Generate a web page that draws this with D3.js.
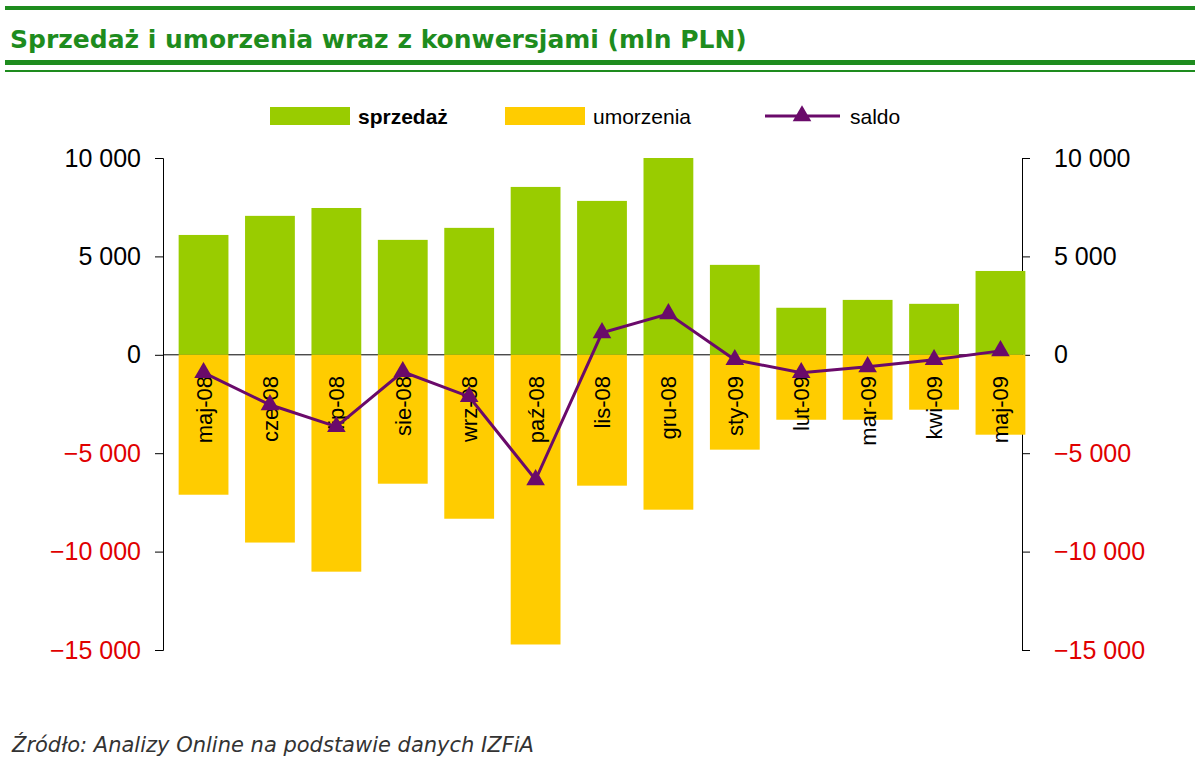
<!DOCTYPE html><html><head><meta charset="utf-8">
<script src="https://cdn.jsdelivr.net/npm/d3@7"></script>
<style>body{margin:0;background:#fff}</style></head><body>
<svg id="c" width="1200" height="769"></svg>
<script>
const categories=["maj-08","cze-08","lip-08","sie-08","wrz-08","paź-08","lis-08","gru-08","sty-09","lut-09","mar-09","kwi-09","maj-09"];
const sprzedaz=[6090,7060,7460,5840,6450,8530,7820,10000,4570,2390,2790,2590,4260];
const umorzenia=[-7110,-9540,-11020,-6550,-8330,-14720,-6650,-7870,-4820,-3300,-3300,-2790,-4060];
const saldo=[-910,-2540,-3650,-860,-2130,-6350,1120,2080,-250,-910,-610,-250,200];
const ticks=[10000,5000,0,-5000,-10000,-15000];
const svg=d3.select("#c");
const G="#1e8c1e";
svg.append("rect").attr("x",5).attr("y",6).attr("width",1190).attr("height",4).attr("fill",G);
svg.append("text").attr("x",10).attr("y",48).attr("font-family","DejaVu Sans").attr("font-weight","bold").attr("font-size",25).attr("fill",G).text("Sprzedaż i umorzenia wraz z konwersjami (mln PLN)");
svg.append("rect").attr("x",5).attr("y",60).attr("width",1190).attr("height",5).attr("fill",G);
svg.append("rect").attr("x",5).attr("y",70).attr("width",1190).attr("height",2).attr("fill",G);
const y=d3.scaleLinear().domain([-15000,10000]).range([650,158]);
const x=d3.scaleBand().domain(categories).range([172,1032]).paddingInner(0.25).paddingOuter(0.1);
const fmt=d=>d3.format(",")(d).replace(",","\u00a0");
function axis(gen,xp,anchorX,anchor){
 const g=svg.append("g").attr("transform",`translate(${xp},0)`).call(gen.tickValues(ticks).tickFormat(fmt).tickSize(8));
 g.select(".domain").attr("stroke","#000");
 g.selectAll("text").attr("font-family","Liberation Sans").attr("font-size",25).attr("fill",d=>d<0?"#e00000":"#000").attr("x",anchorX).attr("text-anchor",anchor);
}
axis(d3.axisLeft(y),163,-22,"end");
axis(d3.axisRight(y),1022,32,"start");
svg.append("line").attr("x1",163).attr("x2",1022).attr("y1",y(0)).attr("y2",y(0)).attr("stroke","#000");
svg.selectAll(".s").data(categories).join("rect").attr("x",d=>x(d)).attr("width",x.bandwidth()).attr("y",(d,i)=>y(sprzedaz[i])).attr("height",(d,i)=>y(0)-y(sprzedaz[i])).attr("fill","#99cc00");
svg.selectAll(".u").data(categories).join("rect").attr("x",d=>x(d)).attr("width",x.bandwidth()).attr("y",y(0)).attr("height",(d,i)=>y(umorzenia[i])-y(0)).attr("fill","#ffcc00");
svg.selectAll(".cl").data(categories).join("text").attr("transform",d=>`translate(${x(d)+x.bandwidth()/2+8},376) rotate(-90)`).attr("text-anchor","end").attr("font-family","Liberation Sans").attr("font-size",22).text(d=>d);
const line=d3.line().x((d,i)=>x(categories[i])+x.bandwidth()/2).y(d=>y(d));
svg.append("path").attr("d",line(saldo)).attr("fill","none").attr("stroke","#6a0a6a").attr("stroke-width",3);
svg.selectAll(".m").data(saldo).join("path").attr("d",d3.symbol(d3.symbolTriangle,150)).attr("transform",(d,i)=>`translate(${x(categories[i])+x.bandwidth()/2},${y(d)})`).attr("fill","#6a0a6a");
const lg=svg.append("g").attr("font-family","Liberation Sans").attr("font-size",21);
lg.append("rect").attr("x",270).attr("y",107).attr("width",80).attr("height",18).attr("fill","#99cc00");
lg.append("text").attr("x",358).attr("y",124).attr("font-weight","bold").text("sprzedaż");
lg.append("rect").attr("x",505).attr("y",107).attr("width",80).attr("height",18).attr("fill","#ffcc00");
lg.append("text").attr("x",593).attr("y",124).text("umorzenia");
lg.append("line").attr("x1",765).attr("x2",840).attr("y1",116).attr("y2",116).attr("stroke","#6a0a6a").attr("stroke-width",3);
lg.append("path").attr("d",d3.symbol(d3.symbolTriangle,150)).attr("transform","translate(802,116)").attr("fill","#6a0a6a");
lg.append("text").attr("x",850).attr("y",124).text("saldo");
svg.append("text").attr("x",12).attr("y",752).attr("font-family","DejaVu Sans").attr("font-style","italic").attr("font-size",21).attr("fill","#333").text("Źródło: Analizy Online na podstawie danych IZFiA");
</script></body></html>
